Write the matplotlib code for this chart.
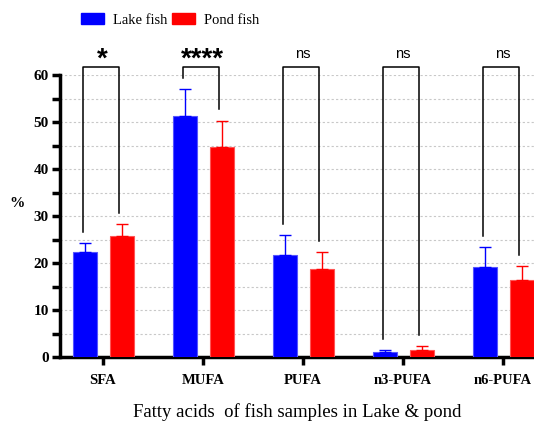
import numpy as np
import matplotlib.pyplot as plt
from matplotlib.patches import Patch

# Fatty acid composition (%), mean and upper SD
categories = ['SFA', 'MUFA', 'PUFA', 'n3-PUFA', 'n6-PUFA']
lake_mean = [22.4, 51.3, 21.8, 1.0, 19.1]
lake_err = [1.8, 5.7, 4.1, 0.4, 4.3]
pond_mean = [25.7, 44.6, 18.8, 1.4, 16.4]
pond_err = [2.5, 5.7, 3.5, 0.9, 3.0]
significance = ['*', '****', 'ns', 'ns', 'ns']

serif = ['Liberation Serif', 'DejaVu Serif']
sans = ['Liberation Sans', 'DejaVu Sans']

fig = plt.figure(figsize=(5.34, 4.21), dpi=100)
ax = fig.add_axes([60 / 534, 1 - 357 / 421, 1 - 60 / 534, (357 - 75) / 421])

x = np.arange(len(categories))
off = 0.185
w = 0.24

ax.bar(x - off, lake_mean, width=w, color='#0000ff', edgecolor='#5555ff', linewidth=0.8, zorder=3)
ax.bar(x + off, pond_mean, width=w, color='#ff0000', edgecolor='#ff5555', linewidth=0.8, zorder=3)
ax.errorbar(x - off, lake_mean, yerr=[np.zeros(len(x)), lake_err], fmt='none',
            ecolor='#0000ff', elinewidth=1.0, capsize=4.5, capthick=1.0, zorder=4)
ax.errorbar(x + off, pond_mean, yerr=[np.zeros(len(x)), pond_err], fmt='none',
            ecolor='#ff0000', elinewidth=1.0, capsize=4.5, capthick=1.0, zorder=4)

# significance brackets
top = 61.8
gap = 2.4
for i, s in enumerate(significance):
    xl, xr = i - off - 0.015, i + off - 0.025
    yl = lake_mean[i] + lake_err[i] + gap
    yr = pond_mean[i] + pond_err[i] + gap
    ax.plot([xl, xl, xr, xr], [yl, top, top, yr], color='black', lw=1.1,
            clip_on=False, zorder=5)
    if s == 'ns':
        ax.text(i - 0.005, top + 1.1, s, ha='center', va='bottom', fontsize=10.5,
                family=sans, clip_on=False)
    else:
        ax.text(i - 0.005, top - 1.2, s, ha='center', va='bottom', fontsize=20,
                fontweight='bold', family=sans, clip_on=False)

ax.set_xlim(-0.43, 4.31)
ax.set_ylim(0, 60)
ax.set_yticks(np.arange(0, 61, 10))
ax.set_yticks(np.arange(5, 60, 10), minor=True)
ax.set_xticks(x)
ax.set_xticklabels(categories, fontsize=10.5, fontweight='bold', family=serif)
for lbl in ax.get_yticklabels():
    lbl.set_fontsize(11)
    lbl.set_fontweight('bold')
    lbl.set_family(serif)

ax.grid(axis='y', which='both', color='#c8c8c8', linestyle=(0, (2, 2)), linewidth=0.8, zorder=0)
ax.spines['top'].set_visible(False)
ax.spines['right'].set_visible(False)
ax.spines['left'].set_linewidth(2.5)
ax.spines['bottom'].set_linewidth(2.5)
ax.tick_params(axis='y', which='major', width=2.5, length=6, pad=2)
ax.tick_params(axis='y', which='minor', width=2.5, length=6)
ax.tick_params(axis='x', width=2.5, length=6, pad=6)

ax.set_ylabel('%', fontsize=11, fontweight='bold', family=serif, rotation=0, labelpad=22)
ax.yaxis.set_label_coords(-0.09, 0.52)
ax.set_xlabel('Fatty acids  of fish samples in Lake & pond', fontsize=13.5, family=serif, labelpad=12)

handles = [Patch(facecolor='#0000ff', edgecolor='#0000ff'),
           Patch(facecolor='#ff0000', edgecolor='#ff0000')]
fig.legend(handles, ['Lake fish', 'Pond fish'], loc='center left', bbox_to_anchor=(68 / 534, 1 - 20 / 421),
           ncol=2, frameon=False, prop={'family': serif, 'size': 10.5}, handlelength=1.6,
           handleheight=0.8, handletextpad=0.6, columnspacing=0.3)

fig.savefig('out.png', dpi=100)
